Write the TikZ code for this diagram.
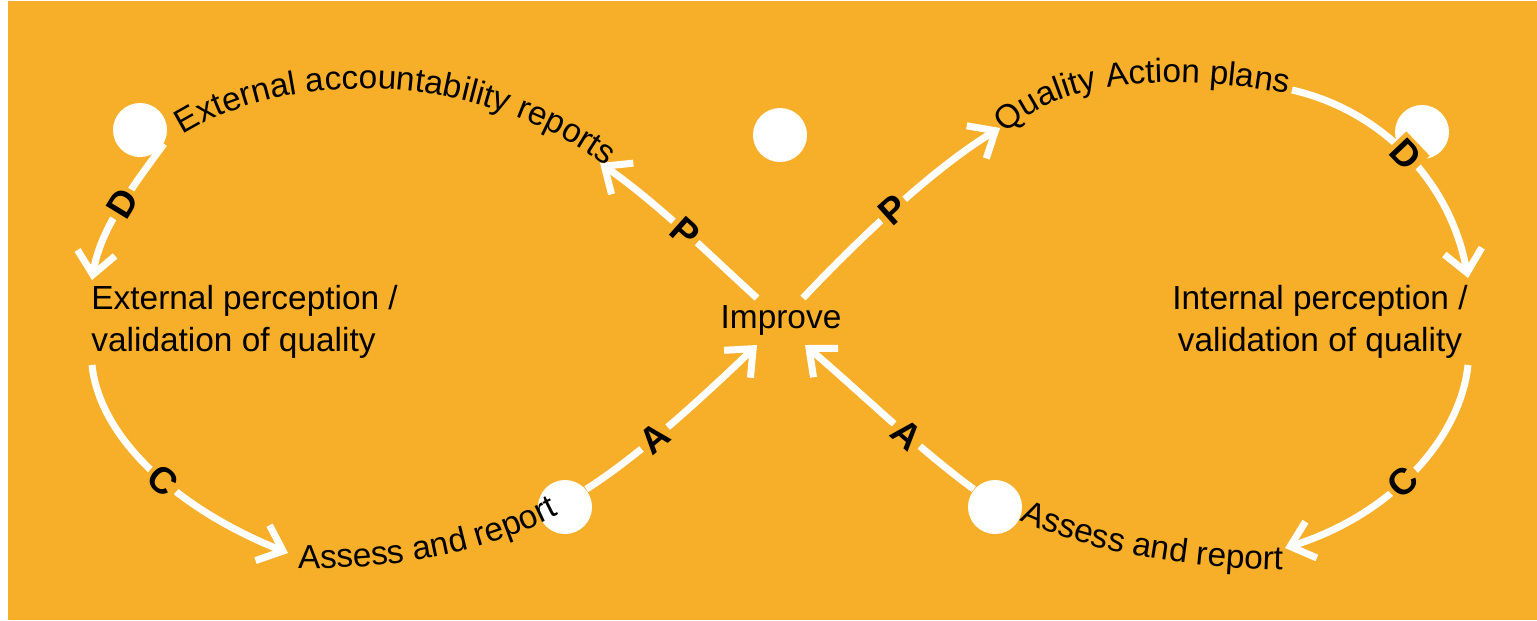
\documentclass[tikz,border=0pt]{standalone}
\usepackage{fontspec}
\setmainfont{Liberation Sans}
\usetikzlibrary{arrows.meta,decorations.text}
\definecolor{saffron}{RGB}{247,174,41}

\begin{document}
\begin{tikzpicture}[x=0.01cm, y=-0.01cm,
    flow/.style={draw=white, line width=2pt, -{Straight Barb[length=2.2mm,width=3.8mm]}},
    dot/.style={circle, fill=white, minimum size=5.4mm, inner sep=0pt},
    txt/.style={font=\fontsize{9.5}{12}\selectfont, text=black},
    pdca/.style={font=\bfseries\fontsize{10.5}{11}\selectfont, fill=saffron, inner sep=1pt, sloped},
    curved/.style={decorate, decoration={text along path, text align=left, text={|\fontsize{9.5}{12}\selectfont|#1}}}]
    \useasboundingbox (0,0) rectangle (1537,620);
    \fill[white]   (0,0) rectangle (1537,620);
    \fill[saffron] (8,1) rectangle (1537,620);

    \node[dot] (dotTL) at ( 140,130) {};
    \node[dot] (dotT)  at ( 780,135) {};
    \node[dot] (dotTR) at (1422,132) {};
    \node[dot] (dotBL) at ( 565,507) {};
    \node[dot] (dotBR) at ( 995,507) {};

    \node[txt]                          (imp)  at ( 781,320) {Improve};
    \node[txt, anchor=west, align=left] (extL) at (  79,322) {External perception /\\validation of quality};
    \node[txt, align=center]            (intR) at (1320,322) {Internal perception /\\validation of quality};

    \coordinate (p1s) at ( 757,298);  \coordinate (p1e) at ( 600,163);
    \coordinate (p2s) at ( 803,298);  \coordinate (p2e) at (1000,128);
    \coordinate (d1e) at (  92,280);
    \coordinate (d2s) at (1292, 90);  \coordinate (d2e) at (1468,278);
    \coordinate (c1s) at (  92,365);  \coordinate (c1e) at ( 288,553);
    \coordinate (c2s) at (1468,365);  \coordinate (c2e) at (1285,548);
    \coordinate (a1e) at ( 757,345);  \coordinate (a2e) at ( 805,345);

    \draw[flow] (p1s)         .. controls ( 715,260) and ( 660,205) .. (p1e) node[pdca, pos=0.5]  (pL) {P};
    \draw[flow] (p2s)         .. controls ( 850,248) and ( 930,170) .. (p2e) node[pdca, pos=0.5]  (pR) {P};
    \draw[flow] (dotTL.-30)   .. controls ( 130,190) and ( 100,230) .. (d1e) node[pdca, pos=0.45] (dL) {D};
    \draw[flow] (d2s)         .. controls (1380,110) and (1450,180) .. (d2e) node[pdca, pos=0.5]  (dR) {D};
    \draw[flow] (c1s)         .. controls ( 100,440) and ( 180,510) .. (c1e) node[pdca, pos=0.55] (cL) {C};
    \draw[flow] (c2s)         .. controls (1460,440) and (1390,515) .. (c2e) node[pdca, pos=0.55] (cR) {C};
    \draw[flow] (dotBL.40)    .. controls ( 640,455) and ( 705,395) .. (a1e) node[pdca, pos=0.4]  (aL) {A};
    \draw[flow] (dotBR.140)   .. controls ( 920,450) and ( 860,392) .. (a2e) node[pdca, pos=0.4]  (aR) {A};

    \path[curved={External accountability reports}] ( 183,135) .. controls ( 290, 68) and ( 480, 68) .. ( 615,172);
    \path[curved={Quality Action plans}]            (1006,134) .. controls (1050, 88) and (1150, 66) .. (1300, 96);
    \path[curved={Assess and report}]               ( 298,568) .. controls ( 380,570) and ( 480,558) .. ( 568,510);
    \path[curved={Assess and report}]               (1020,520) .. controls (1080,548) and (1170,568) .. (1290,570);
\end{tikzpicture}
\end{document}
